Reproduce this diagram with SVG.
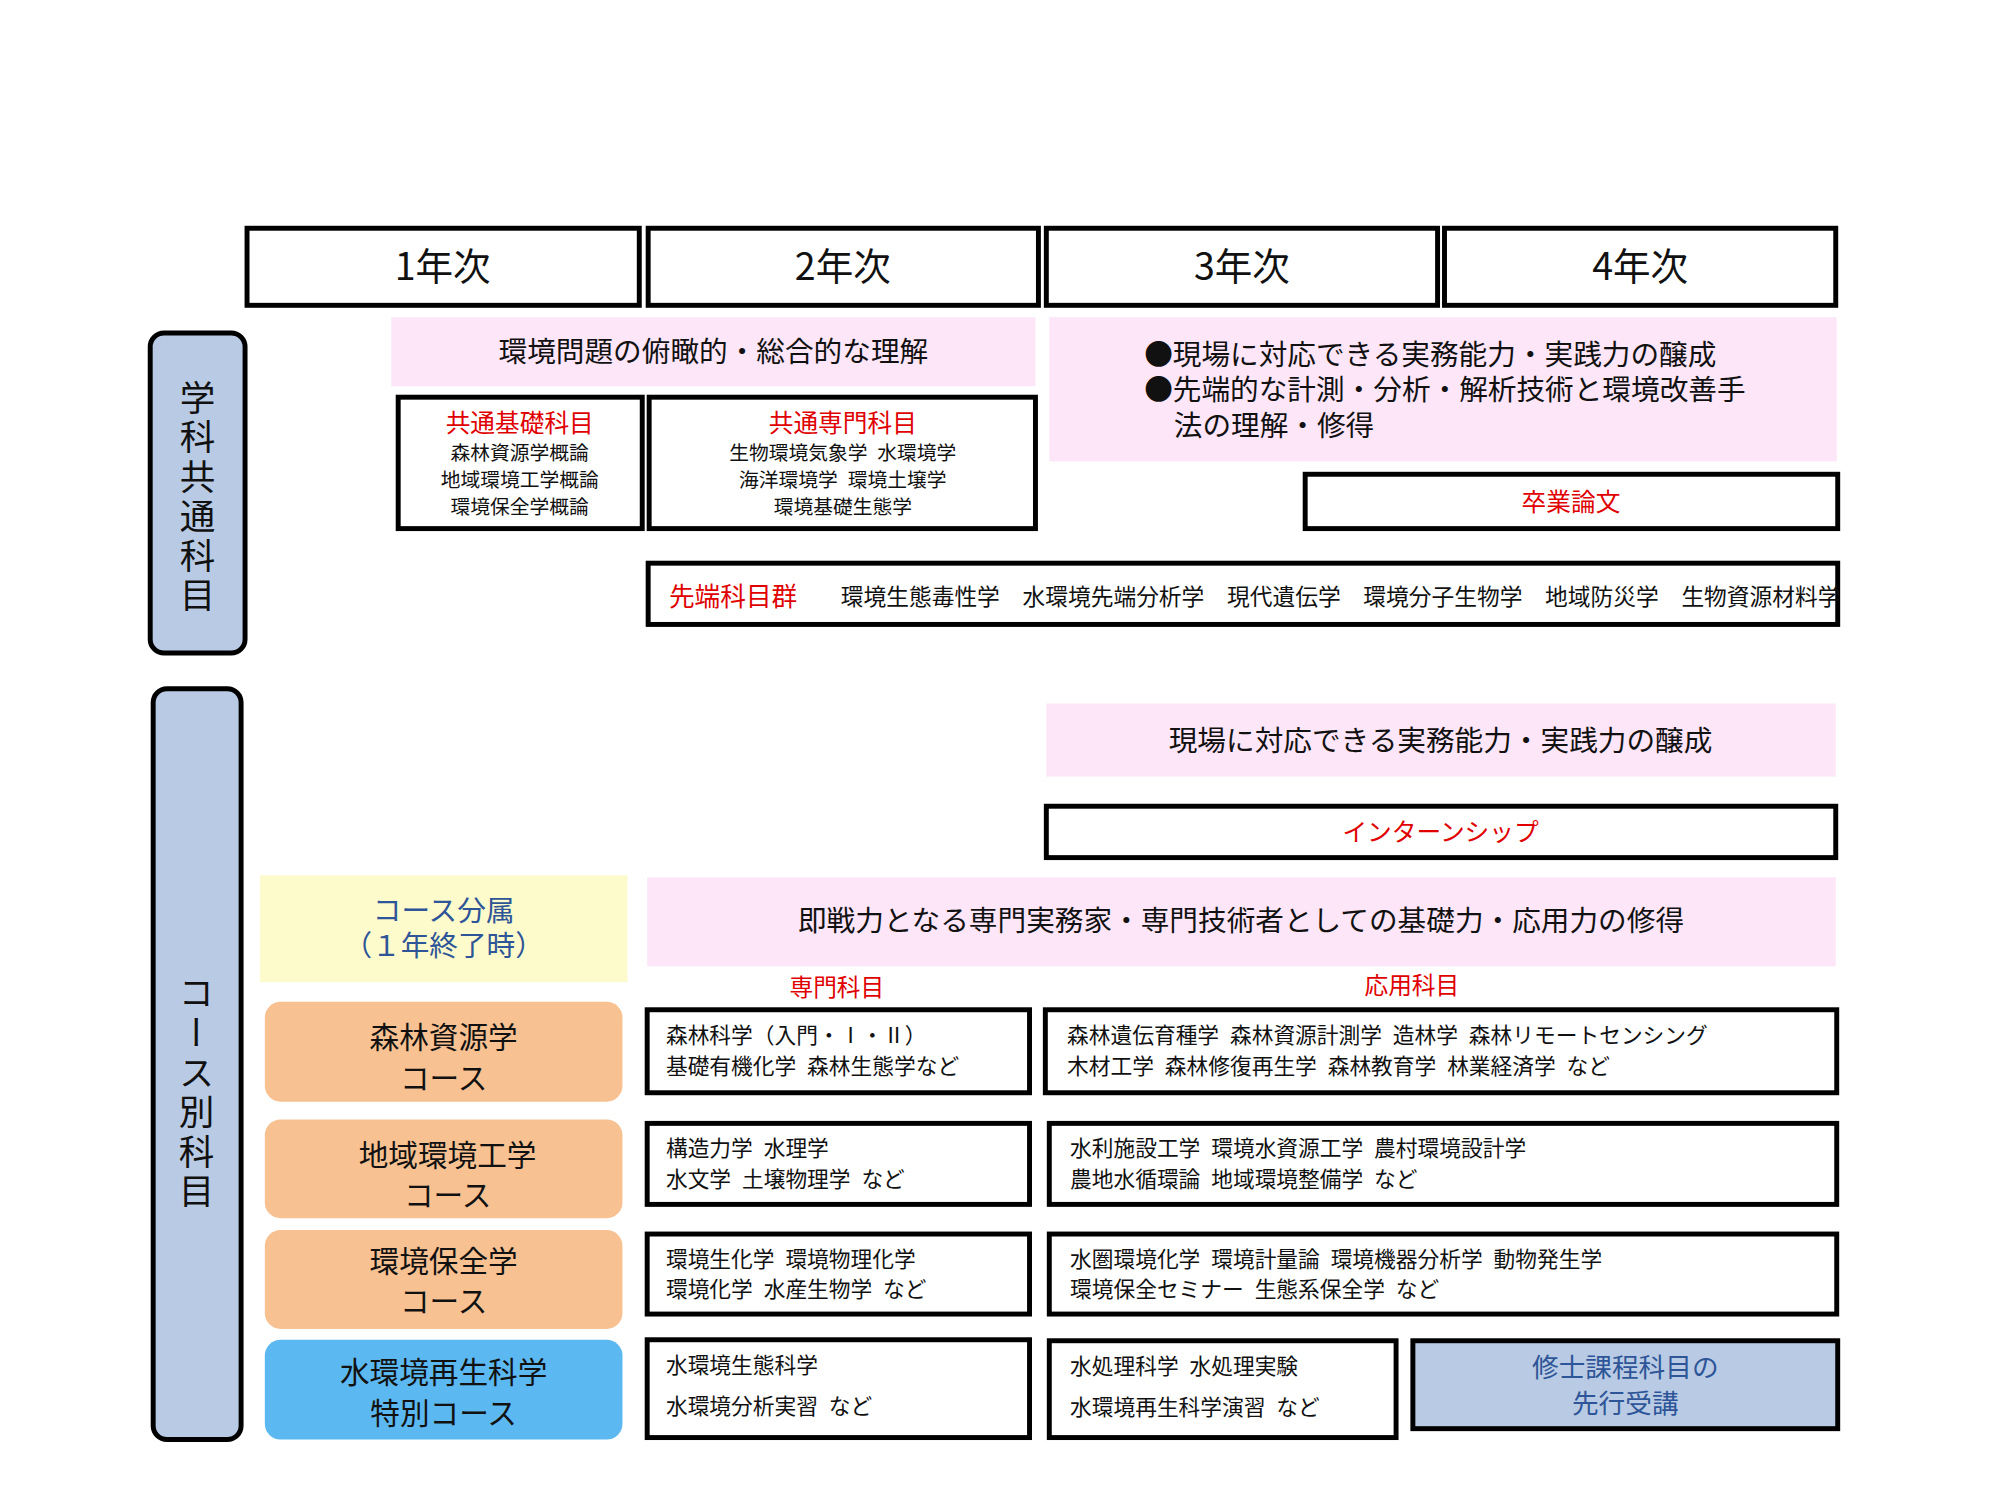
<svg xmlns="http://www.w3.org/2000/svg" width="2000" height="1500" viewBox="0 0 2000 1500">
<style>
text{font-family:"Noto Sans CJK JP","Noto Sans",sans-serif;fill:#111}
.box{fill:#fff;stroke:#000;stroke-width:5}
.pink{fill:#fde6f8}
.red{fill:#e00000}
.blue{fill:#2e5597}
.hd{font-size:38px;text-anchor:middle}
.c{text-anchor:middle}
.s{font-size:22px}
.m{font-size:29px}
.cn{font-size:30px;text-anchor:middle}
.crs{fill:#f8c191}
.vert{writing-mode:vertical-rl;font-size:36px;text-anchor:middle;letter-spacing:4px}
</style>
<rect width="2000" height="1500" fill="#fff"/>
<g transform="translate(3,2) scale(0.988)">
<g id="headers">
<rect class="box" x="247" y="229" width="397" height="78"/><text class="hd" x="445" y="281">1年次</text>
<rect class="box" x="653" y="229" width="395" height="78"/><text class="hd" x="850" y="281">2年次</text>
<rect class="box" x="1056" y="229" width="396" height="78"/><text class="hd" x="1254" y="281">3年次</text>
<rect class="box" x="1459" y="229" width="396" height="78"/><text class="hd" x="1657" y="281">4年次</text>
</g>
<g id="label-common">
<rect x="149" y="335" width="96" height="324" rx="14" fill="#b9cbe4" stroke="#000" stroke-width="5"/>
<text class="vert" x="197" y="502">学科共通科目</text>
</g>
<g id="label-course">
<rect x="152" y="695" width="89" height="760" rx="14" fill="#b9cbe4" stroke="#000" stroke-width="5"/>
<text class="vert" x="196" y="1105">コース別科目</text>
</g>
<g id="goal1"><rect class="pink" x="393" y="319" width="652" height="70"/><text class="m c" x="719" y="364">環境問題の俯瞰的・総合的な理解</text></g>
<g id="goal2"><rect class="pink" x="1059" y="319" width="797" height="146"/>
<text class="m" x="1155" y="367">●現場に対応できる実務能力・実践力の醸成</text>
<text class="m" x="1155" y="403">●先端的な計測・分析・解析技術と環境改善手</text>
<text class="m" x="1185" y="439">法の理解・修得</text></g>
<g id="kiso"><rect class="box" x="400" y="400" width="247" height="133"/>
<text class="red c" x="523" y="435" font-size="25">共通基礎科目</text>
<text class="c" font-size="20" x="523" y="464">森林資源学概論</text>
<text class="c" font-size="20" x="523" y="491">地域環境工学概論</text>
<text class="c" font-size="20" x="523" y="518">環境保全学概論</text></g>
<g id="senmon-common"><rect class="box" x="654" y="400" width="391" height="133"/>
<text class="red c" x="850" y="435" font-size="25">共通専門科目</text>
<text class="c" font-size="20" x="850" y="464">生物環境気象学&#8194;水環境学</text>
<text class="c" font-size="20" x="850" y="491">海洋環境学&#8194;環境土壌学</text>
<text class="c" font-size="20" x="850" y="518">環境基礎生態学</text></g>
<g id="sotsuron"><rect class="box" x="1318" y="478" width="539" height="55"/><text class="red c" x="1587" y="515" font-size="25">卒業論文</text></g>
<g id="sentan"><rect class="box" x="653" y="568" width="1204" height="62"/>
<text class="red" x="674" y="611" font-size="26">先端科目群</text>
<text x="848" y="610" font-size="23">環境生態毒性学&#8195;水環境先端分析学&#8195;現代遺伝学&#8195;環境分子生物学&#8195;地域防災学&#8195;生物資源材料学</text></g>
<g id="goal3"><rect class="pink" x="1056" y="710" width="799" height="74"/><text class="m c" x="1455" y="758">現場に対応できる実務能力・実践力の醸成</text></g>
<g id="intern"><rect class="box" x="1056" y="814" width="799" height="52"/><text class="red c" x="1455" y="849" font-size="25">インターンシップ</text></g>
<g id="bunzoku"><rect x="260" y="884" width="372" height="108" fill="#fdfbcc"/>
<text class="m c blue" x="446" y="930">コース分属</text><text class="m c blue" x="446" y="966">（１年終了時）</text></g>
<g id="goal4"><rect class="pink" x="652" y="886" width="1203" height="90"/><text class="m c" x="1253" y="940">即戦力となる専門実務家・専門技術者としての基礎力・応用力の修得</text></g>
<text class="red c" x="844" y="1006" font-size="24">専門科目</text>
<text class="red c" x="1426" y="1004" font-size="24">応用科目</text>
<g id="course1"><rect class="crs" x="265" y="1012" width="362" height="101" rx="16"/>
<text class="cn" x="446" y="1059">森林資源学</text><text class="cn" x="446" y="1100">コース</text></g>
<g id="course2"><rect class="crs" x="265" y="1131" width="362" height="100" rx="16"/>
<text class="cn" x="450" y="1178">地域環境工学</text><text class="cn" x="450" y="1219">コース</text></g>
<g id="course3"><rect class="crs" x="265" y="1243" width="362" height="100" rx="16"/>
<text class="cn" x="446" y="1285">環境保全学</text><text class="cn" x="446" y="1326">コース</text></g>
<g id="course4"><rect x="265" y="1354" width="362" height="101" rx="16" fill="#5cb8f0"/>
<text class="cn" x="446" y="1398">水環境再生科学</text><text class="cn" x="446" y="1439">特別コース</text></g>
<g id="s1"><rect class="box" x="652" y="1020" width="387" height="84"/>
<text class="s" x="671" y="1054">森林科学（入門・Ⅰ・Ⅱ）</text><text class="s" x="671" y="1085">基礎有機化学&#8194;森林生態学など</text></g>
<g id="a1"><rect class="box" x="1055" y="1020" width="801" height="84"/>
<text class="s" x="1077" y="1054">森林遺伝育種学&#8194;森林資源計測学&#8194;造林学&#8194;森林リモートセンシング</text><text class="s" x="1077" y="1085">木材工学&#8194;森林修復再生学&#8194;森林教育学&#8194;林業経済学&#8194;など</text></g>
<g id="s2"><rect class="box" x="652" y="1135" width="387" height="82"/>
<text class="s" x="671" y="1168">構造力学&#8194;水理学</text><text class="s" x="671" y="1199">水文学&#8194;土壌物理学&#8194;など</text></g>
<g id="a2"><rect class="box" x="1059" y="1135" width="797" height="82"/>
<text class="s" x="1080" y="1168">水利施設工学&#8194;環境水資源工学&#8194;農村環境設計学</text><text class="s" x="1080" y="1199">農地水循環論&#8194;地域環境整備学&#8194;など</text></g>
<g id="s3"><rect class="box" x="652" y="1247" width="387" height="81"/>
<text class="s" x="671" y="1280">環境生化学&#8194;環境物理化学</text><text class="s" x="671" y="1311">環境化学&#8194;水産生物学&#8194;など</text></g>
<g id="a3"><rect class="box" x="1059" y="1247" width="797" height="81"/>
<text class="s" x="1080" y="1280">水圏環境化学&#8194;環境計量論&#8194;環境機器分析学&#8194;動物発生学</text><text class="s" x="1080" y="1311">環境保全セミナー&#8194;生態系保全学&#8194;など</text></g>
<g id="s4"><rect class="box" x="652" y="1354" width="387" height="99"/>
<text class="s" x="671" y="1388">水環境生態科学</text><text class="s" x="671" y="1429">水環境分析実習&#8194;など</text></g>
<g id="a4"><rect class="box" x="1059" y="1355" width="351" height="98"/>
<text class="s" x="1080" y="1389">水処理科学&#8194;水処理実験</text><text class="s" x="1080" y="1430">水環境再生科学演習&#8194;など</text></g>
<g id="master"><rect x="1427" y="1355" width="430" height="89" fill="#b9cbe4" stroke="#000" stroke-width="5"/>
<text class="c blue" x="1642" y="1392" font-size="27">修士課程科目の</text><text class="c blue" x="1642" y="1428" font-size="27">先行受講</text></g>
<g id="connectors"/>
</g>
</svg>
